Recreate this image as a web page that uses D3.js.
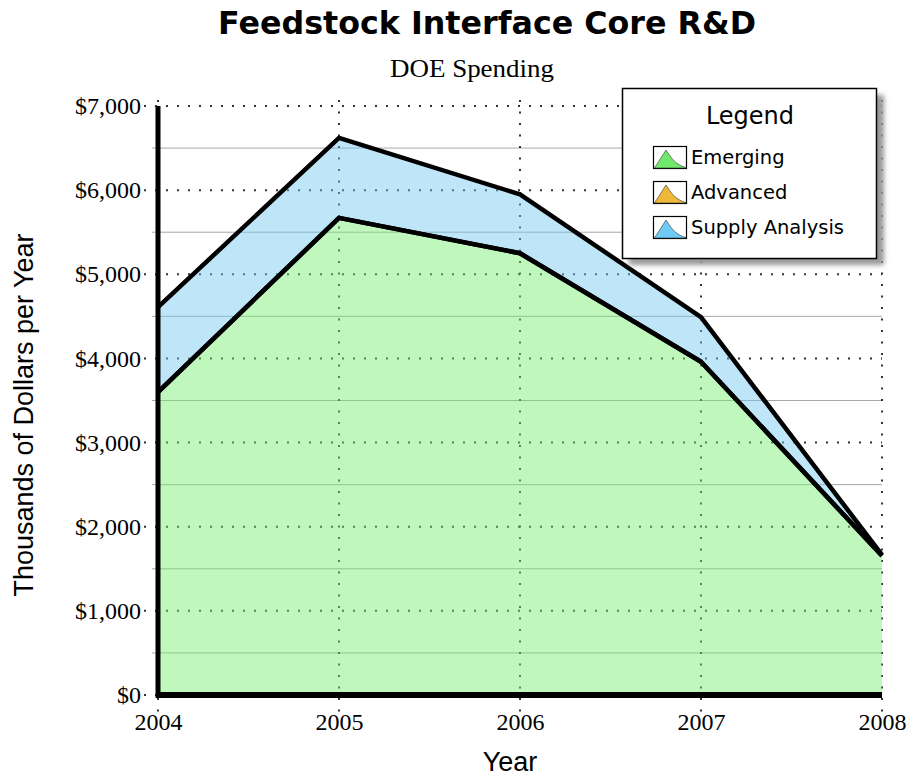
<!DOCTYPE html>
<html><head><meta charset="utf-8">
<script src="https://cdn.jsdelivr.net/npm/d3@7"></script>
<style>body{margin:0;background:#fff}svg{display:block}</style>
</head><body>
<script>
const years = [2004, 2005, 2006, 2007, 2008];
const emerging = [3600, 5670, 5250, 3960, 1655];
const advanced = [0, 0, 0, 0, 0];
const supplyAnalysis = [1010, 950, 700, 530, 10];
const seriesNames = ["Emerging", "Advanced", "Supply Analysis"];
const yTicks = [0, 1000, 2000, 3000, 4000, 5000, 6000, 7000];
const yMinor = [500, 1500, 2500, 3500, 4500, 5500, 6500];

const fills = ["rgba(113,237,109,0.45)", "rgba(240,184,56,0.45)", "rgba(111,199,239,0.45)"];
const swatch = ["#6fe96c", "#f0b838", "#6ecbf5"];

const W = 914, H = 780;
const svg = d3.select("body").append("svg").attr("width", W).attr("height", H);
const x = d3.scaleLinear().domain([2004, 2008]).range([158, 882]);
const y = d3.scaleLinear().domain([0, 7000]).range([695, 106]);

const table = years.map((yr, i) => ({year: yr, "Emerging": emerging[i], "Advanced": advanced[i], "Supply Analysis": supplyAnalysis[i]}));
const stack = d3.stack().keys(seriesNames)(table);

// title
svg.append("text").attr("x", 487).attr("y", 34).attr("text-anchor", "middle")
  .style("font-family", "'DejaVu Sans', sans-serif").style("font-weight", "bold").style("font-size", "32px")
  .attr("textLength", 538).attr("lengthAdjust", "spacingAndGlyphs")
  .text("Feedstock Interface Core R&D");
svg.append("text").attr("x", 472).attr("y", 77).attr("text-anchor", "middle")
  .style("font-family", "'Liberation Serif', serif").style("font-size", "26px")
  .attr("textLength", 164).attr("lengthAdjust", "spacingAndGlyphs").text("DOE Spending");

// minor solid gridlines
svg.append("g").selectAll("line").data(yMinor).join("line")
  .attr("x1", 152).attr("x2", 882).attr("y1", d => y(d)).attr("y2", d => y(d))
  .attr("stroke", "#a8a8a8").attr("stroke-width", 1);
// major dotted gridlines
svg.append("g").selectAll("line").data(yTicks).join("line")
  .attr("x1", 144).attr("x2", 882).attr("y1", d => y(d)).attr("y2", d => y(d))
  .attr("stroke", "#333").attr("stroke-width", 2).attr("stroke-dasharray", "2,9");
svg.append("g").selectAll("line").data(years).join("line")
  .attr("x1", d => x(d)).attr("x2", d => x(d)).attr("y1", 100).attr("y2", 712)
  .attr("stroke", "#333").attr("stroke-width", 2).attr("stroke-dasharray", "2,9.5");

// areas
const area = d3.area().x(d => x(d.data.year)).y0(d => y(d[0])).y1(d => y(d[1]));
svg.append("g").selectAll("path").data(stack).join("path")
  .attr("d", area).attr("fill", (d, i) => fills[i]);
const line = d3.line().x(d => x(d.data.year)).y(d => y(d[1]));
svg.append("g").selectAll("path").data(stack).join("path")
  .attr("d", line).attr("fill", "none").attr("stroke", "#000").attr("stroke-width", 4.5)
  .attr("stroke-linejoin", "round");

// axes lines
svg.append("line").attr("x1", x(2004)).attr("x2", x(2004)).attr("y1", y(7000)).attr("y2", y(0) + 3)
  .attr("stroke", "#000").attr("stroke-width", 5);
svg.append("line").attr("x1", x(2004) - 2).attr("x2", x(2008)).attr("y1", y(0)).attr("y2", y(0))
  .attr("stroke", "#000").attr("stroke-width", 6);

// axes labels
const yAxis = d3.axisLeft(y).tickValues(yTicks).tickSize(0).tickPadding(17).tickFormat(d => "$" + d3.format(",")(d));
const gy = svg.append("g").attr("transform", `translate(${x(2004)},0)`).call(yAxis);
gy.select(".domain").remove();
gy.selectAll("text").style("font-family", "'Liberation Serif', serif").style("font-size", "24px").attr("fill", "#000");

const xAxis = d3.axisBottom(x).tickValues(years).tickSize(0).tickPadding(18).tickFormat(d3.format("d"));
const gx = svg.append("g").attr("transform", `translate(0,${y(0)})`).call(xAxis);
gx.select(".domain").remove();
gx.selectAll("text").style("font-family", "'Liberation Serif', serif").style("font-size", "24px").attr("fill", "#000");

svg.append("text").attr("x", 510).attr("y", 771).attr("text-anchor", "middle")
  .style("font-family", "'Liberation Sans', sans-serif").style("font-size", "27px").text("Year");
svg.append("text").attr("transform", "translate(33,415) rotate(-90)").attr("text-anchor", "middle")
  .style("font-family", "'Liberation Sans', sans-serif").style("font-size", "27px").text("Thousands of Dollars per Year");

// legend
const defs = svg.append("defs");
const f = defs.append("filter").attr("id", "sh").attr("x", "-10%").attr("y", "-10%").attr("width", "130%").attr("height", "130%");
f.append("feGaussianBlur").attr("stdDeviation", 2.5);
const lg = svg.append("g");
lg.append("rect").attr("x", 629).attr("y", 95).attr("width", 255).attr("height", 170).attr("fill", "#999").attr("filter", "url(#sh)");
lg.append("rect").attr("x", 622.5).attr("y", 88.5).attr("width", 254).attr("height", 170).attr("fill", "#fff").attr("stroke", "#000").attr("stroke-width", 1.5);
lg.append("text").attr("x", 750).attr("y", 124).attr("text-anchor", "middle")
  .style("font-family", "'DejaVu Sans', sans-serif").style("font-size", "24px").text("Legend");
seriesNames.forEach((n, i) => {
  const yy = 146 + i * 35;
  const g = lg.append("g").attr("transform", `translate(653,${yy})`);
  g.append("rect").attr("x", 0.5).attr("y", 0.5).attr("width", 33).attr("height", 22).attr("fill", "#fff").attr("stroke", "#000").attr("stroke-width", 1.2);
  g.append("path").attr("d", "M1.5,22 L13,4 C17,10 20,15 25,18 C28,20 31,21 33,21.5 L33,22 Z").attr("fill", swatch[i]).attr("stroke", "#333").attr("stroke-width", 0.6);
  lg.append("text").attr("x", 691).attr("y", yy + 18)
    .style("font-family", "'DejaVu Sans', sans-serif").style("font-size", "19.5px").text(n);
});
</script>
</body></html>
